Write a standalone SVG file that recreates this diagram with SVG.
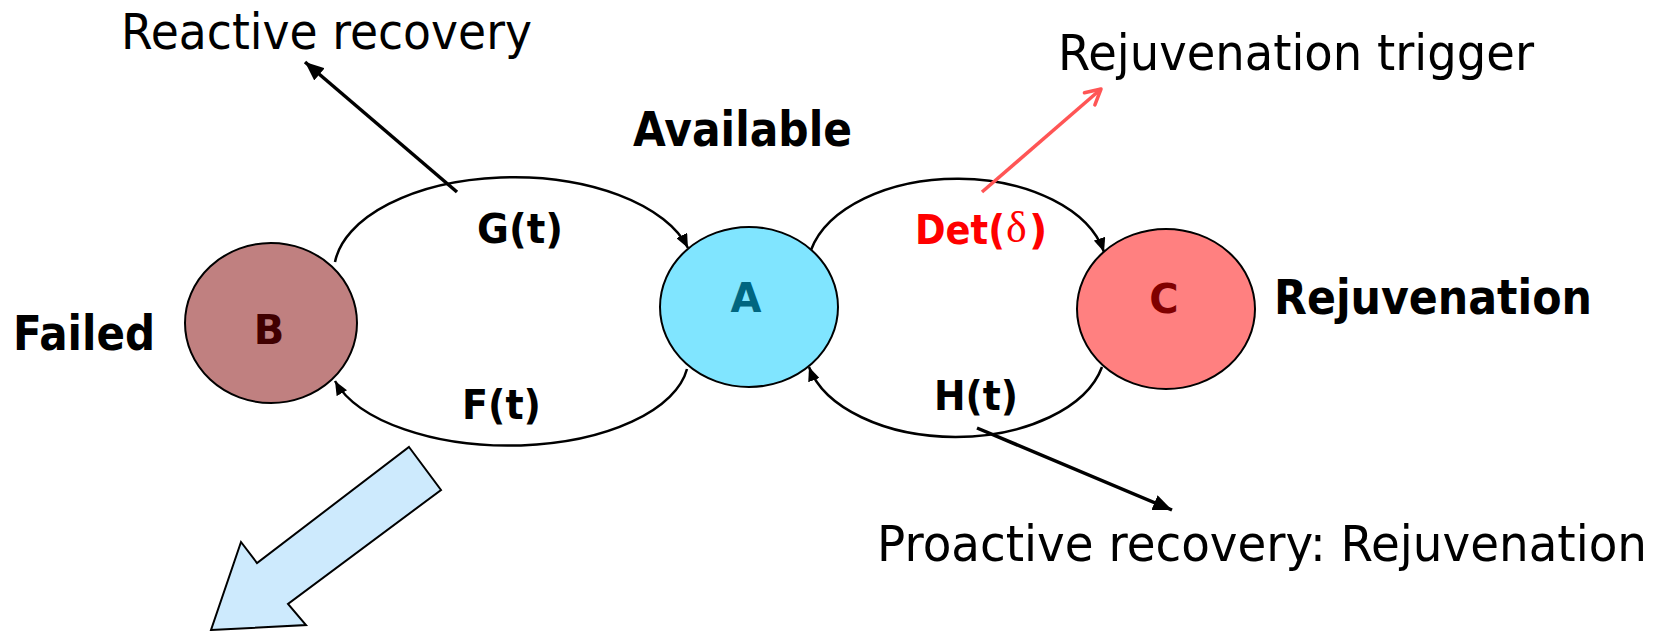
<svg xmlns="http://www.w3.org/2000/svg" width="1663" height="631" viewBox="0 0 1663 631">
  <defs>
    <style>
      .node { stroke: #000; stroke-width: 2; }
      .state { font-family: "DejaVu Sans", "Liberation Sans", sans-serif; font-weight: bold; font-size: 40px; text-anchor: middle; }
      .bold { font-family: "DejaVu Sans", "Liberation Sans", sans-serif; font-weight: bold; font-size: 48px; fill: #000; }
      .rate { font-family: "DejaVu Sans", "Liberation Sans", sans-serif; font-weight: bold; font-size: 40px; fill: #000; }
      .rate.trigger { fill: #ff0000; }
      .greek { font-family: "Liberation Serif", serif; font-weight: normal; font-size: 44px; }
      .note { font-family: "DejaVu Sans", "Liberation Sans", sans-serif; font-size: 50px; fill: #000; }
      .arc { fill: none; stroke: #000; stroke-width: 2.5; marker-end: url(#arcHead); }
      .pointer { fill: none; stroke: #000; stroke-width: 3.5; marker-end: url(#ptrHead); }
    </style>
    <marker id="arcHead" markerUnits="userSpaceOnUse" markerWidth="15" markerHeight="12" refX="14" refY="6" orient="auto">
      <path d="M0,0 L14,6 L0,12 z" fill="#000"/>
    </marker>
    <marker id="ptrHead" markerUnits="userSpaceOnUse" markerWidth="20" markerHeight="16" refX="19" refY="8" orient="auto">
      <path d="M0,0 L19,8 L0,16 z" fill="#000"/>
    </marker>
    <marker id="openHead" markerUnits="userSpaceOnUse" markerWidth="22" markerHeight="20" refX="18" refY="10" orient="auto">
      <path d="M3,2 L18,10 L3,18" fill="none" stroke="#ff5555" stroke-width="3.5" stroke-linecap="round" stroke-linejoin="round"/>
    </marker>
  </defs>

  <rect width="1663" height="631" fill="#fff"/>

  <!-- transitions between states, and pointers to the annotations -->
  <g id="connectors">
    <path id="edge-G" class="arc" d="M335,262 A180,95 0 0 1 688,248"/>
    <path id="edge-F" class="arc" d="M687,369 A180,88 0 0 1 335,381"/>
    <path id="edge-Det" class="arc" d="M811,250 A150,92 0 0 1 1104,252"/>
    <path id="edge-H" class="arc" d="M1102,367 A150,89 0 0 1 809,367"/>
    <path id="ptr-reactive" class="pointer" d="M457,192 L305,62"/>
    <path id="ptr-proactive" class="pointer" d="M977,428 L1172,510"/>
    <path id="ptr-trigger" d="M982,192 L1101,89" fill="none" stroke="#ff5555" stroke-width="3.5" marker-end="url(#openHead)"/>
  </g>

  <!-- state B: failed -->
  <g id="node-B">
    <ellipse class="node" cx="271" cy="323" rx="86" ry="80" fill="#c08080"/>
    <text class="state" x="269" y="344" fill="#400000">B</text>
    <text class="bold" x="13" y="350" textLength="142" lengthAdjust="spacingAndGlyphs">Failed</text>
  </g>

  <!-- state A: available -->
  <g id="node-A">
    <ellipse class="node" cx="749" cy="307" rx="89" ry="80" fill="#80e5ff"/>
    <text class="state" x="746" y="312" fill="#006680">A</text>
    <text class="bold" x="633" y="146" textLength="219" lengthAdjust="spacingAndGlyphs">Available</text>
  </g>

  <!-- state C: rejuvenation -->
  <g id="node-C">
    <ellipse class="node" cx="1166" cy="309" rx="89" ry="80" fill="#ff8080"/>
    <text class="state" x="1164" y="313" fill="#800000">C</text>
    <text class="bold" x="1274" y="314" textLength="318" lengthAdjust="spacingAndGlyphs">Rejuvenation</text>
  </g>

  <!-- transition labels -->
  <g id="labels">
    <text class="rate" x="477" y="243" textLength="86" lengthAdjust="spacingAndGlyphs">G(t)</text>
    <text class="rate" x="462" y="419" textLength="79" lengthAdjust="spacingAndGlyphs">F(t)</text>
    <text class="rate" x="934" y="410" textLength="84" lengthAdjust="spacingAndGlyphs">H(t)</text>
    <text class="rate trigger" y="244"><tspan x="915" textLength="90" lengthAdjust="spacingAndGlyphs">Det(</tspan><tspan class="greek" x="1006" y="242">δ</tspan><tspan x="1029" y="244">)</tspan></text>
  </g>

  <!-- annotations -->
  <g id="notes">
    <text class="note" x="121" y="49" textLength="411" lengthAdjust="spacingAndGlyphs">Reactive recovery</text>
    <text class="note" x="1058" y="70" textLength="476" lengthAdjust="spacingAndGlyphs">Rejuvenation trigger</text>
    <text class="note" x="877" y="561" textLength="770" lengthAdjust="spacingAndGlyphs">Proactive recovery: Rejuvenation</text>
  </g>

  <!-- block arrow leading out of the failed state -->
  <g id="block-arrow">
    <polygon points="409,447 441,490 288,604 306,625 211,630 241,542 257,563" fill="#cdeafd" stroke="#000" stroke-width="2" stroke-linejoin="miter"/>
  </g>
</svg>
